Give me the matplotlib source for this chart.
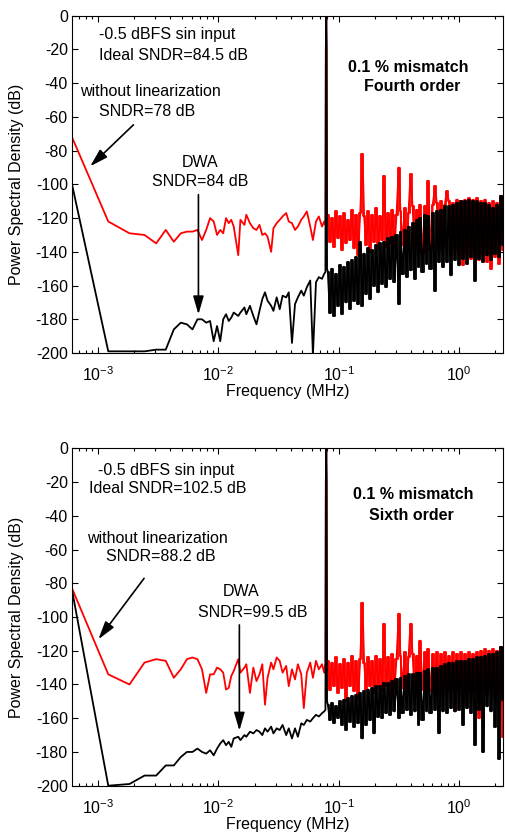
import matplotlib
matplotlib.use('Agg')
import matplotlib.pyplot as plt
import numpy as np

plt.rcParams['font.family'] = ['Liberation Sans', 'DejaVu Sans']
plt.rcParams['mathtext.default'] = 'regular'
plt.rcParams['axes.unicode_minus'] = False

# FFT bin spacing in MHz (fs = 5 MHz, N = 8192)
df = 5.0 / 8192

bins = [1, 2, 3, 4, 5, 6, 7, 8, 9, 10, 11, 12, 13, 14, 15, 16,
        17, 18, 19, 20, 21, 22, 24, 25, 27, 28, 30, 32, 34, 36, 38, 40, 42, 45,
        47, 50, 53, 56, 60, 63, 67, 71, 75, 80, 84, 89, 95, 100, 106, 112, 119, 124,
        127, 128, 129, 130, 131,
        133, 138, 144, 149, 155, 161, 168, 174, 181, 188,
        196, 203, 211, 220, 228, 237, 247, 258, 266, 277,
        288, 299, 311, 323, 336, 349, 363, 377, 387, 407,
        423, 440, 457, 475, 494, 516, 533, 554, 576, 599,
        622, 645, 672, 698, 726, 754, 774, 815, 847, 880,
        903, 951, 988, 1032, 1067, 1109, 1161, 1198, 1245, 1290,
        1345, 1398, 1453, 1510, 1569, 1631, 1695, 1762, 1831, 1903,
        1977, 2055, 2136, 2220, 2307, 2397, 2491, 2589, 2691, 2797,
        2906, 3021, 3139, 3263, 3391, 3524, 3662, 3806]
dense_from = 133  # above the tone the spectrum is a dense band

# fourth order modulator, without linearization (red) and with DWA (black)
red_4th = [-72, -122, -129, -130, -135, -127, -134, -129, -128, -128, -127, -133, -127, -120, -122, -130,
           -127, -129, -120, -123, -121, -125, -142, -121, -124, -118, -123, -126, -127, -124, -130, -129, -131, -140,
           -126, -123, -121, -119, -117, -122, -123, -127, -125, -121, -119, -116, -125, -133, -122, -119, -125, -122,
           -124, -20, 0, -20, -121,
           -118, -134, -120, -137, -116, -132, -119, -139, -117, -135,
           -121, -133, -115, -138, -118, -142, -117, -82, -119, -136,
           -116, -140, -118, -134, -114, -138, -119, -133, -95, -137,
           -117, -135, -115, -139, -118, -90, -116, -136, -114, -140,
           -117, -94, -113, -138, -115, -136, -112, -141, -113, -137,
           -98, -139, -112, -101, -111, -140, -110, -138, -112, -104,
           -110, -142, -111, -139, -109, -143, -110, -148, -109, -141,
           -108, -144, -109, -140, -108, -145, -110, -142, -109, -146,
           -111, -150, -110, -143, -111, -147, -107, -139]
black_4th = [-100, -199, -199, -199, -198, -198, -186, -182, -183, -186, -180, -180, -182, -181, -193, -184,
             -193, -180, -177, -181, -179, -176, -178, -176, -173, -177, -172, -178, -183, -175, -168, -164, -169, -172,
             -175, -167, -174, -166, -167, -164, -194, -171, -167, -163, -166, -161, -157, -201, -158, -155, -156, -153,
             -152, -20, 0, -20, -150,
             -152, -176, -150, -178, -153, -172, -148, -177, -149, -170,
             -146, -174, -145, -169, -143, -171, -134, -172, -141, -165,
             -138, -168, -139, -160, -136, -164, -135, -159, -134, -161,
             -132, -156, -131, -158, -130, -171, -128, -153, -127, -155,
             -125, -151, -123, -156, -121, -149, -120, -152, -118, -147,
             -119, -150, -117, -163, -116, -146, -115, -149, -113, -146,
             -113, -154, -112, -145, -111, -148, -110, -144, -110, -147,
             -109, -143, -110, -157, -110, -144, -111, -146, -111, -142,
             -112, -145, -114, -141, -112, -143, -107, -136]

# sixth order modulator
red_6th = [-83, -134, -140, -127, -125, -126, -136, -131, -125, -124, -125, -131, -145, -134, -134, -130,
           -131, -133, -143, -142, -135, -132, -125, -133, -130, -128, -145, -130, -138, -134, -128, -152, -136, -127,
           -131, -124, -126, -133, -129, -141, -131, -137, -128, -134, -154, -133, -127, -136, -126, -131, -128, -133,
           -127, -20, 0, -20, -128,
           -126, -143, -127, -141, -124, -145, -128, -142, -125, -150,
           -127, -141, -123, -144, -126, -149, -125, -91.5, -127, -143,
           -124, -141, -126, -145, -123, -142, -125, -144, -104, -141,
           -124, -146, -122, -143, -125, -98, -123, -142, -121, -144,
           -124, -104, -122, -145, -123, -141, -114, -143, -121, -140,
           -119, -144, -122, -141, -121, -146, -122, -142, -121, -145,
           -123, -143, -121, -156, -122, -142, -121, -146, -122, -152,
           -121, -143, -122, -145, -121, -160, -120, -144, -119, -146,
           -120, -143, -119, -147, -120, -145, -118, -171]
black_6th = [-84, -200, -199, -194, -194, -188, -188, -183, -180, -180, -178, -180, -181, -179, -182, -178,
             -175, -173, -176, -174, -177, -172, -171, -173, -170, -171, -168, -169, -167, -168, -170, -166, -168, -165,
             -169, -166, -167, -164, -170, -166, -172, -166, -171, -163, -164, -161, -162, -160, -158, -159, -157, -156,
             -155, -20, 0, -20, -150,
             -152, -161, -151, -163, -153, -160, -150, -164, -149, -167,
             -148, -162, -147, -165, -146, -163, -145, -172, -144, -164,
             -143, -161, -142, -169, -141, -159, -141, -160, -139, -157,
             -139, -158, -138, -156, -137, -160, -136, -157, -135, -155,
             -134, -158, -134, -156, -133, -164, -133, -161, -132, -156,
             -131, -157, -130, -155, -130, -169, -129, -156, -128, -157,
             -127, -154, -127, -156, -126, -155, -126, -164, -126, -154,
             -125, -157, -125, -176, -124, -155, -124, -180, -123, -153,
             -122, -156, -122, -165, -121, -184, -118, -149]

yticks = [-200, -180, -160, -140, -120, -100, -80, -60, -40, -20, 0]
xticks = [1e-3, 1e-2, 1e-1, 1e0]
xtick_labels = ['$10^{-3}$', '$10^{-2}$', '$10^{-1}$', '$10^{0}$']

# (text, x in MHz, y in dB, bold)
notes_4th = [('-0.5 dBFS sin input', 3.76e-3, -11.4, False),
             ('Ideal SNDR=84.5 dB', 4.22e-3, -23.3, False),
             ('without linearization', 2.74e-3, -45.1, False),
             ('SNDR=78 dB', 2.56e-3, -57, False),
             ('DWA', 7.06e-3, -87.2, False),
             ('SNDR=84 dB', 7.06e-3, -98.4, False),
             ('0.1 % mismatch', 0.380, -30.4, True),
             ('Fourth order', 0.410, -42.2, True)]
notes_6th = [('-0.5 dBFS sin input', 3.66e-3, -12.9, False),
             ('Ideal SNDR=102.5 dB', 3.83e-3, -24.1, False),
             ('without linearization', 3.13e-3, -53.2, False),
             ('SNDR=88.2 dB', 3.34e-3, -64.3, False),
             ('DWA', 0.01545, -85, False),
             ('SNDR=99.5 dB', 0.01926, -97.5, False),
             ('0.1 % mismatch', 0.419, -27.1, True),
             ('Sixth order', 0.402, -40, True)]
# (tail, tip)
arrows_4th = [((1.974e-3, -64.7), (8.63e-4, -89.3)),
              ((6.84e-3, -106.1), (6.84e-3, -177.1))]
arrows_6th = [((2.42e-3, -77.1), (1.011e-3, -113.2)),
              ((0.01496, -104.7), (0.01496, -167.4))]

freq = np.array(bins) * df
hi = bins.index(dense_from)
fs_txt = 11.5

fig = plt.figure(figsize=(5.06, 8.33), dpi=100)
ax1 = fig.add_axes([0.1423, 0.5762, 0.8524, 0.4049])
ax2 = fig.add_axes([0.1423, 0.0568, 0.8524, 0.4050])

panels = [(ax1, red_4th, black_4th, notes_4th, arrows_4th),
          (ax2, red_6th, black_6th, notes_6th, arrows_6th)]

for ax, red, blk, notes, arrows in panels:
    for vals, col in [(red, '#ff0000'), (blk, 'k')]:
        ax.plot(freq, vals, color=col, lw=1.3)
        # fill in the dense part as the many FFT bins do in the original
        ax.plot(freq[hi:], vals[hi:], color=col, lw=1.3, drawstyle='steps-mid')
    ax.set_xscale('log')
    ax.set_xlim(freq[0], freq[-1])
    ax.set_ylim(-200, 0)
    ax.set_yticks(yticks)
    ax.set_xticks(xticks, xtick_labels)
    ax.tick_params(which='both', direction='in', top=True, right=True,
                   width=0.8, labelsize=fs_txt)
    ax.tick_params(which='major', length=4)
    ax.tick_params(which='minor', length=2.5)
    ax.tick_params(axis='y', pad=3)
    ax.tick_params(axis='x', pad=9)
    for s in ax.spines.values():
        s.set_linewidth(0.8)
    ax.set_xlabel('Frequency (MHz)', fontsize=fs_txt)
    ax.set_ylabel('Power Spectral Density (dB)', fontsize=fs_txt)
    ax.xaxis.set_label_coords(0.5, -0.092)
    ax.yaxis.set_label_coords(-0.112, 0.5)

    for txt, x, y, bold in notes:
        ax.text(x, y, txt, ha='center', va='center', fontsize=fs_txt,
                fontweight='bold' if bold else 'normal')
    for tail, tip in arrows:
        ax.annotate('', xy=tip, xytext=tail,
                    arrowprops=dict(arrowstyle='-|>,head_length=1.1,head_width=0.32',
                                    mutation_scale=10, lw=1.2, color='k',
                                    shrinkA=0, shrinkB=0))

fig.savefig('out.png', dpi=100)
